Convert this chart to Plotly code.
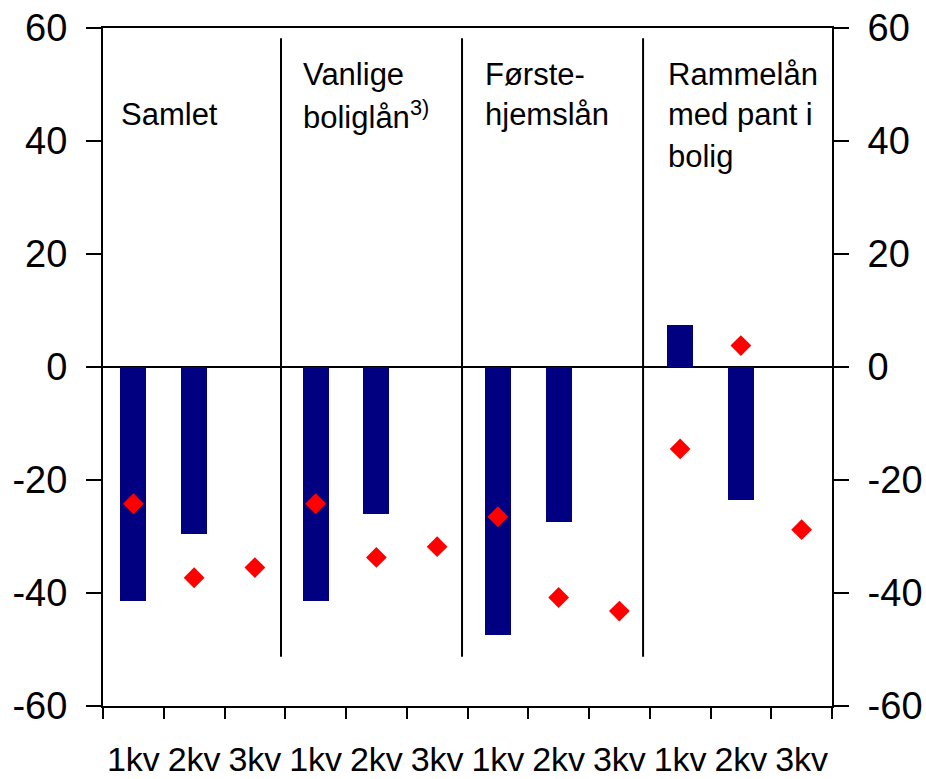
import plotly.graph_objects as go

# ---- data ----
quarters = ["1kv", "2kv", "3kv"]
groups = ["Samlet", "Vanlige boliglån", "Førstehjemslån", "Rammelån med pant i bolig"]
group_labels = [
    ["", "Samlet"],
    ["Vanlige", "boliglån<sup>3)</sup>"],
    ["Første-", "hjemslån"],
    ["Rammelån", "med pant i", "bolig"],
]
# bars (None = no bar)
bar_values = [-41.5, -29.5, None,
              -41.5, -26.0, None,
              -47.5, -27.5, None,
              7.4, -23.6, None]
# diamonds
point_values = [-24.2, -37.3, -35.5,
                -24.2, -33.7, -31.8,
                -26.5, -40.8, -43.2,
                -14.5, 3.8, -28.8]
y_ticks = [-60, -40, -20, 0, 20, 40, 60]
y_tick_text = ["-60", "-40", "-20", "0", "20", "40", "60"]
divider_x = [2.93, 5.91, 8.89]

FONT = "Liberation Sans, Arial, sans-serif"

n = len(groups) * len(quarters)
x_centers = [i + 0.5 for i in range(n)]
x_labels = quarters * len(groups)

fig = go.Figure()
fig.add_trace(go.Bar(x=x_centers, y=bar_values, width=0.43,
                     marker=dict(color="#000080", line=dict(width=0)),
                     showlegend=False))
fig.add_trace(go.Scatter(x=x_centers, y=point_values, mode="markers",
                         marker=dict(symbol="diamond", size=16, color="#FF0000",
                                     line=dict(width=0)),
                         showlegend=False))
# invisible trace for right axis
fig.add_trace(go.Scatter(x=[0], y=[0], yaxis="y2", mode="markers",
                         marker=dict(opacity=0), showlegend=False, hoverinfo="skip"))

for dx in divider_x:
    fig.add_shape(type="line", x0=dx, x1=dx, y0=-51.3, y1=58.2,
                  xref="x", yref="y", line=dict(color="black", width=2))

line_px = [0.9307, 0.8717, 0.811]
for g, lines in enumerate(group_labels):
    for k, txt in enumerate(lines):
        if not txt:
            continue
        fig.add_annotation(x=g * 3 + 0.26, y=line_px[k], xref="x", yref="paper",
                           text=txt, showarrow=False, xanchor="left", yanchor="middle",
                           font=dict(family=FONT, size=31, color="black"))

yfont = dict(family=FONT, size=38, color="black")
xfont = dict(family=FONT, size=34, color="black")
fig.update_layout(
    width=926, height=779,
    margin=dict(l=103, r=94, t=28, b=73),
    paper_bgcolor="white", plot_bgcolor="white",
    bargap=0,
    xaxis=dict(range=[0, n], tickmode="array", tickvals=x_centers, ticktext=x_labels,
               ticks="", showgrid=False, zeroline=False, automargin=False, tickangle=0,
               showline=True, linecolor="black", linewidth=2, mirror=True,
               tickfont=xfont, ticklabelstandoff=22, ticklabeloverflow="allow",
               minor=dict(tickmode="array", tickvals=list(range(n + 1)),
                          ticks="outside", ticklen=11, tickwidth=2, tickcolor="black",
                          showgrid=False)),
    yaxis=dict(range=[-60, 60], tickmode="array", tickvals=y_ticks, ticktext=y_tick_text,
               ticks="outside", ticklen=15, tickwidth=2, tickcolor="black",
               showgrid=False, zeroline=True, zerolinecolor="black", zerolinewidth=2,
               showline=True, linecolor="black", linewidth=2, automargin=False,
               tickfont=yfont, ticklabelstandoff=11, ticklabeloverflow="allow"),
    yaxis2=dict(range=[-60, 60], tickmode="array", tickvals=y_ticks, ticktext=y_tick_text,
                overlaying="y", automargin=False,
                side="right", ticks="outside", ticklen=15, tickwidth=2, tickcolor="black",
                showgrid=False, zeroline=False,
                showline=True, linecolor="black", linewidth=2,
                tickfont=yfont, ticklabelstandoff=11, ticklabeloverflow="allow"),
)

fig.write_html("out.html",
               config={"displayModeBar": False},
               post_script="document.body.style.margin='0';document.body.style.overflow='hidden';")
